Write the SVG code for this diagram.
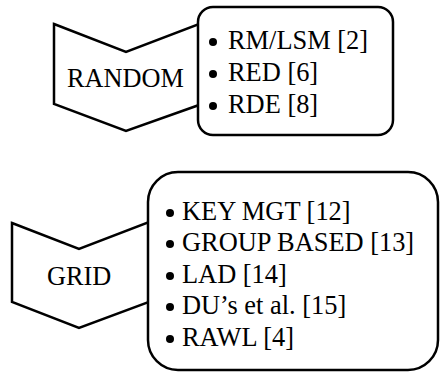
<svg xmlns="http://www.w3.org/2000/svg" width="440" height="374" viewBox="0 0 440 374">
  <style>
    .shape { fill: #ffffff; stroke: #000000; stroke-width: 2.5; stroke-linejoin: miter; }
    .bullet { fill: #000000; }
  </style>
  <rect width="440" height="374" fill="#ffffff"/>

  <!-- RANDOM category: chevron tag + list box -->
  <g id="random-tag">
    <polygon class="shape" points="54,24 126,52 199,24 199,105 126,131 54,104"/>
    <text x="67" y="87" font-family="Liberation Serif, Times New Roman, serif" font-size="26.3">RANDOM</text>
  </g>
  <g id="random-list" font-family="Liberation Serif, Times New Roman, serif" font-size="26.4">
    <rect class="shape" x="198" y="7" width="195" height="128" rx="15" ry="15"/>
    <circle class="bullet" cx="213" cy="42" r="4"/>
    <text x="228" y="49">RM/LSM [2]</text>
    <circle class="bullet" cx="213" cy="74" r="4"/>
    <text x="228" y="81">RED [6]</text>
    <circle class="bullet" cx="213" cy="106" r="4"/>
    <text x="228" y="113">RDE [8]</text>
  </g>

  <!-- GRID category: chevron tag + list box -->
  <g id="grid-tag">
    <polygon class="shape" points="12,223 79,249 149,222 149,302 79,328 12,302"/>
    <text x="47" y="285" font-family="Liberation Serif, Times New Roman, serif" font-size="26.3">GRID</text>
  </g>
  <g id="grid-list" font-family="Liberation Serif, Times New Roman, serif" font-size="26.4">
    <rect class="shape" x="148" y="172" width="290" height="198" rx="30" ry="30"/>
    <circle class="bullet" cx="170" cy="213" r="4"/>
    <text x="182" y="220">KEY MGT [12]</text>
    <circle class="bullet" cx="170" cy="244" r="4"/>
    <text x="182" y="251">GROUP BASED [13]</text>
    <circle class="bullet" cx="170" cy="276" r="4"/>
    <text x="182" y="283">LAD [14]</text>
    <circle class="bullet" cx="170" cy="307" r="4"/>
    <text x="182" y="314">DU’s et al. [15]</text>
    <circle class="bullet" cx="170" cy="339" r="4"/>
    <text x="182" y="346">RAWL [4]</text>
  </g>

  <g id="connectors"/>
</svg>
